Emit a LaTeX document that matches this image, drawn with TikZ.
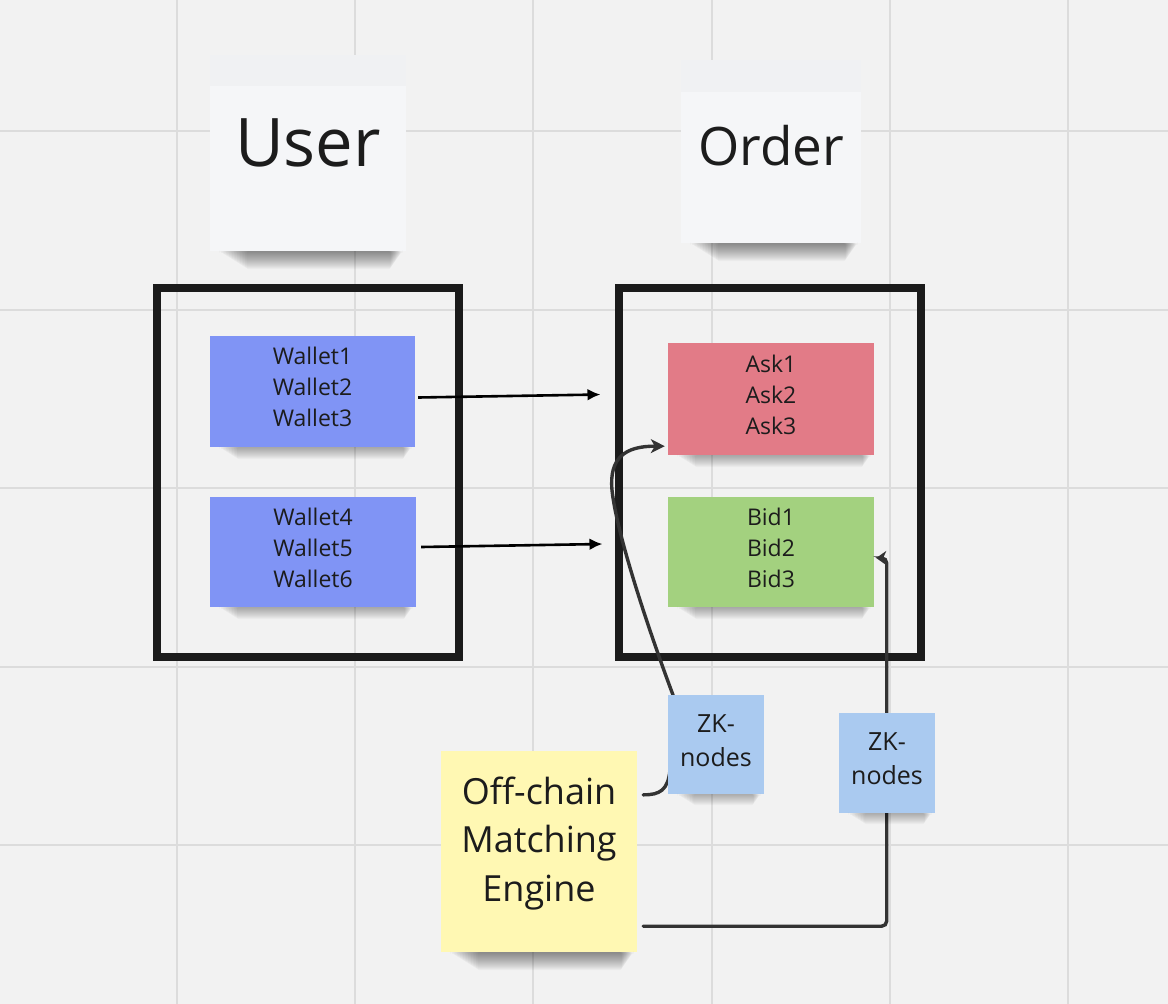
\documentclass[tikz,border=0pt]{standalone}
\usepackage{fontspec}
\setmainfont{Open Sans}
\usetikzlibrary{arrows.meta}
\definecolor{canvas}{HTML}{F2F2F2}
\definecolor{gridline}{HTML}{DCDCDC}
\definecolor{walletblue}{HTML}{8094F5}
\definecolor{askred}{HTML}{E27B87}
\definecolor{bidgreen}{HTML}{A3D17F}
\definecolor{zkblue}{HTML}{AACAF0}
\definecolor{engineyellow}{HTML}{FFF8B3}
\definecolor{titlewhite}{HTML}{F5F6F8}
\definecolor{titlestrip}{HTML}{F0F1F3}
\definecolor{frameblack}{HTML}{1B1B1B}
\definecolor{wiregrey}{HTML}{333333}
\definecolor{inkblack}{HTML}{1C1C1C}
\tikzset{
  sticky/.style={fill=#1, inner sep=0pt},
  frame/.style={draw=frameblack, line width=8.5pt, inner sep=0pt,
    minimum width=302pt, minimum height=369pt},
  note/.style n args={2}{align=center, text=inkblack, inner sep=0pt,
    font=\fontsize{#1}{#2}\selectfont},
  note/.default={23}{31},
  flow/.style={draw=black, line width=2.6pt, -{Latex[length=13pt,width=12pt]}},
  wire/.style={draw=wiregrey, line width=3.4pt, line cap=round,
    -{Stealth[length=14pt,width=14pt,inset=4pt]}},
}
% soft shade under the lower edge of a sticky
\newcommand{\stickyshadow}[2]{%
  \foreach \k in {1,...,#2}
    \fill[black, opacity=0.028, rounded corners=2pt]
      ([xshift={8pt+1.6pt*\k}]#1.south west) rectangle
      ([xshift={-3pt-0.7pt*\k}, yshift={-1pt*\k}]#1.south east);}
\begin{document}
\begin{tikzpicture}[x=1pt,y=-1pt]
\useasboundingbox (0,0) rectangle (1168,1004);

% board
\fill[canvas] (0,0) rectangle (1168,1004);
\foreach \gx in {177,355,533,712,890,1068}
  \draw[gridline, line width=2pt] (\gx,0) -- (\gx,1004);
\foreach \gy in {131,310,488,667,845}
  \draw[gridline, line width=2pt] (0,\gy) -- (1168,\gy);

% frames
\node[frame] (userframe) at (308,472.5) {};
\node[frame] (orderframe) at (770,472.5) {};

% titles
\node[sticky=titlewhite, minimum width=196pt, minimum height=196pt] (user) at (308,153) {};
\fill[titlestrip] (user.north west) rectangle ([yshift=-31pt]user.north east);
\stickyshadow{user}{18}
\node[note={67}{80}] (usertext) at ([yshift=10pt]user.center) {User};
\node[sticky=titlewhite, minimum width=180pt, minimum height=183pt] (order) at (771,151.5) {};
\fill[titlestrip] (order.north west) rectangle ([yshift=-32pt]order.north east);
\stickyshadow{order}{18}
\node[note={53}{64}] (ordertext) at ([yshift=6pt]order.center) {Order};

% stickies
\node[sticky=walletblue, minimum width=205pt, minimum height=111pt] (w1) at (312.5,391.5) {};
\stickyshadow{w1}{12}
\node[note] (w1text) at ([yshift=5pt]w1.center) {Wallet1\\Wallet2\\Wallet3};
\node[sticky=walletblue, minimum width=206pt, minimum height=110pt] (w2) at (313,552) {};
\stickyshadow{w2}{12}
\node[note] (w2text) at ([yshift=4pt]w2.center) {Wallet4\\Wallet5\\Wallet6};
\node[sticky=askred, minimum width=206pt, minimum height=112pt] (ask) at (771,399) {};
\stickyshadow{ask}{12}
\node[note] (asktext) at ([yshift=4.5pt]ask.center) {Ask1\\Ask2\\Ask3};
\node[sticky=bidgreen, minimum width=206pt, minimum height=110pt] (bid) at (771,552) {};
\stickyshadow{bid}{12}
\node[note] (bidtext) at ([yshift=4pt]bid.center) {Bid1\\Bid2\\Bid3};
\node[sticky=engineyellow, minimum width=196pt, minimum height=201pt] (engine) at (539,851.5) {};
\stickyshadow{engine}{18}
\node[note={36}{48.5}] (enginetext) at ([yshift=8pt]engine.center) {Off-chain\\Matching\\Engine};

% connectors
\coordinate (ordera) at (600.5,394.5);
\coordinate (orderb) at (602.5,544);
\draw[flow] ([xshift=3pt,yshift=-6pt]w1.east) -- (ordera);
\draw[flow] ([xshift=5pt,yshift=5pt]w2.east) -- (orderb);
\draw[wire] ([xshift=6pt,yshift=-44pt]engine.north east)
  .. controls (660,795) and (668,790) .. (670,770)
  -- (673,695)
  .. controls (645,620) and (616,530) .. (612,490)
  .. controls (609,458) and (625,446) .. ([xshift=-3pt,yshift=9pt]ask.south west);
\draw[wire, rounded corners=5pt, -{Stealth[length=10pt,width=14pt,inset=3pt]}]
  ([xshift=6pt,yshift=26pt]engine.south east)
  -| ([xshift=12.5pt,yshift=-6pt]bid.east) -- ([xshift=2pt,yshift=-6pt]bid.east);

% zk stickies over the wires
\node[sticky=zkblue, minimum width=96pt, minimum height=99pt] (zk1) at (716,744.5) {};
\stickyshadow{zk1}{11}
\node[note={25}{34}] (zk1text) at ([yshift=3.5pt]zk1.center) {ZK-\\nodes};
\node[sticky=zkblue, minimum width=96pt, minimum height=100pt] (zk2) at (887,763) {};
\stickyshadow{zk2}{11}
\node[note={25}{34}] (zk2text) at ([yshift=4pt]zk2.center) {ZK-\\nodes};
\end{tikzpicture}
\end{document}
